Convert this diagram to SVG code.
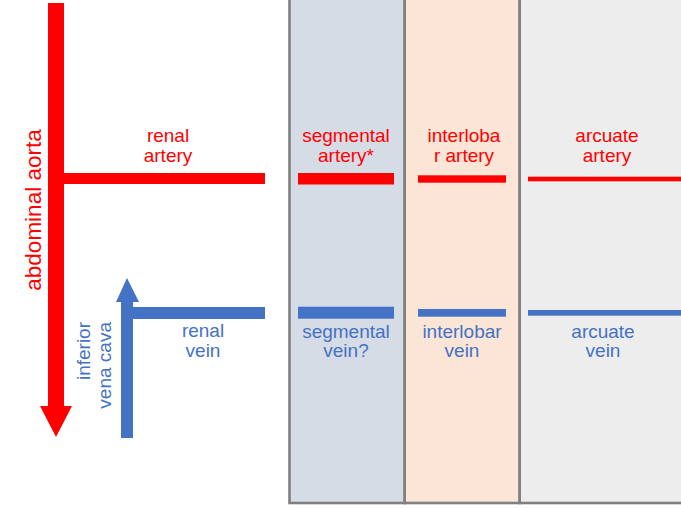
<svg xmlns="http://www.w3.org/2000/svg" width="681" height="508" viewBox="0 0 681 508">
  <style>
    .lbl { font-family: "Liberation Sans", Arial, sans-serif; font-size: 19px; text-anchor: middle; }
    .art { fill: #FF0000; }
    .ven { fill: #4472C4; }
    .panel { stroke: #808080; stroke-width: 2.6; }
  </style>

  <!-- kidney zone columns -->
  <g id="zones">
    <rect class="panel" x="289.5" y="-5" width="115.2" height="508" fill="#D6DCE5"/>
    <rect class="panel" x="404.7" y="-5" width="115" height="508" fill="#FBE5D6"/>
    <rect class="panel" x="519.7" y="-5" width="170" height="508" fill="#EDEDED"/>
  </g>

  <!-- main vessels and their branches -->
  <g id="connectors">
    <g id="abdominal-aorta">
      <rect class="art" x="48" y="3" width="16" height="403"/>
      <polygon class="art" points="40,406 72,406 56,437"/>
      <text class="lbl art" font-size="22.5" transform="translate(41,210) rotate(-90)" style="font-size:22.5px">abdominal aorta</text>
    </g>
    <g id="inferior-vena-cava">
      <rect class="ven" x="121" y="301" width="12" height="137"/>
      <polygon class="ven" points="116,302 139,302 127,278"/>
      <text class="lbl ven" transform="translate(90,322) rotate(-90)" style="text-anchor:end">inferior</text>
      <text class="lbl ven" transform="translate(111,322) rotate(-90)" style="text-anchor:end">vena cava</text>
    </g>
  </g>

  <!-- arteries -->
  <g id="renal-artery">
    <rect class="art" x="64" y="173" width="201" height="11"/>
    <text class="lbl art" x="168" y="142">renal</text>
    <text class="lbl art" x="168" y="162">artery</text>
  </g>
  <g id="segmental-artery">
    <rect class="art" x="298" y="173" width="96" height="11.5"/>
    <text class="lbl art" x="346" y="142">segmental</text>
    <text class="lbl art" x="346" y="162">artery*</text>
  </g>
  <g id="interlobar-artery">
    <rect class="art" x="418" y="175.3" width="88" height="7.4"/>
    <text class="lbl art" x="464" y="142">interloba</text>
    <text class="lbl art" x="464" y="162">r artery</text>
  </g>
  <g id="arcuate-artery">
    <rect class="art" x="528" y="176.7" width="153" height="4.6"/>
    <text class="lbl art" x="607" y="142">arcuate</text>
    <text class="lbl art" x="607" y="162">artery</text>
  </g>

  <!-- veins -->
  <g id="renal-vein">
    <rect class="ven" x="133" y="307" width="132" height="12"/>
    <text class="lbl ven" x="203" y="337">renal</text>
    <text class="lbl ven" x="203" y="357">vein</text>
  </g>
  <g id="segmental-vein">
    <rect class="ven" x="298" y="306.7" width="96" height="12"/>
    <text class="lbl ven" x="346" y="338">segmental</text>
    <text class="lbl ven" x="346" y="357">vein?</text>
  </g>
  <g id="interlobar-vein">
    <rect class="ven" x="418" y="309" width="88" height="7.7"/>
    <text class="lbl ven" x="462" y="338">interlobar</text>
    <text class="lbl ven" x="462" y="357">vein</text>
  </g>
  <g id="arcuate-vein">
    <rect class="ven" x="528" y="310" width="153" height="5.7"/>
    <text class="lbl ven" x="603" y="338">arcuate</text>
    <text class="lbl ven" x="603" y="357">vein</text>
  </g>
</svg>
